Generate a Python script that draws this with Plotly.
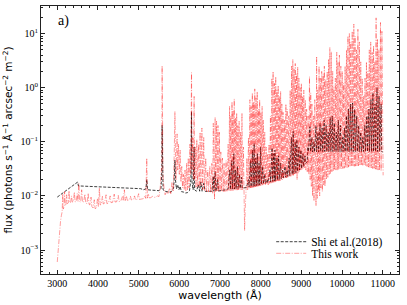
import plotly.graph_objects as go

# ---------------- data ----------------
# Shi et al. (2018): (wavelength [A], flux)
shi_blue = [(3000, 0.0095), (3500, 0.0180), (3520, 0.0153), (5050, 0.0136), (5120, 0.0130),
            (5180, 0.0135), (5200, 0.0200), (5220, 0.0130), (5300, 0.0128), (5400, 0.0127),
            (5500, 0.0125), (5550, 0.0135), (5570, 0.0300), (5577, 0.2000), (5584, 0.0300),
            (5600, 0.0130), (5650, 0.0122), (5700, 0.0118), (5750, 0.0117), (5800, 0.0119),
            (5860, 0.0140), (5880, 0.0250), (5892, 0.0460), (5905, 0.0200), (5930, 0.0135),
            (5960, 0.0160), (5990, 0.0130), (6020, 0.0150), (6050, 0.0120), (6100, 0.0118),
            (6150, 0.0113), (6200, 0.0115), (6250, 0.0125), (6285, 0.0200), (6300, 0.3600),
            (6312, 0.0180), (6340, 0.0130), (6364, 0.0800), (6376, 0.0130), (6420, 0.0122),
            (6470, 0.0160), (6500, 0.0122), (6530, 0.0180), (6560, 0.0122), (6600, 0.0170),
            (6640, 0.0121), (6700, 0.0121), (6760, 0.0122), (6800, 0.0122), (6835, 0.0230),
            (6850, 0.0122), (6880, 0.0280), (6900, 0.0122), (6940, 0.0200), (6960, 0.0123)]
shi_red = [(7000, 0.0125), (7050, 0.0126), (7100, 0.0127), (7150, 0.0130), (7200, 0.0135),
           (7240, 0.0300), (7255, 0.0132), (7290, 0.0450), (7305, 0.0133), (7340, 0.0600),
           (7355, 0.0134), (7380, 0.0300), (7395, 0.0135), (7430, 0.0350), (7445, 0.0137),
           (7480, 0.0250), (7495, 0.0138), (7530, 0.0220), (7545, 0.0139), (7600, 0.0140),
           (7650, 0.0143), (7700, 0.0200), (7715, 0.0145), (7750, 0.0450), (7765, 0.0147),
           (7800, 0.0700), (7815, 0.0150), (7840, 0.0930), (7855, 0.0152), (7880, 0.0500),
           (7895, 0.0155), (7920, 0.0600), (7935, 0.0157), (7960, 0.0400), (7975, 0.0160),
           (8000, 0.0800), (8015, 0.0163), (8050, 0.0350), (8065, 0.0166), (8100, 0.0250),
           (8115, 0.0170), (8160, 0.0200), (8175, 0.0175), (8230, 0.0300), (8245, 0.0180),
           (8280, 0.0770), (8295, 0.0185), (8320, 0.0600), (8335, 0.0188), (8350, 0.0700),
           (8365, 0.0192), (8400, 0.0500), (8415, 0.0197), (8440, 0.0550), (8455, 0.0202),
           (8490, 0.0400), (8505, 0.0208), (8540, 0.0300), (8555, 0.0215), (8600, 0.0350),
           (8615, 0.0222), (8650, 0.0300), (8665, 0.0230), (8700, 0.0500), (8715, 0.0240),
           (8760, 0.1200), (8775, 0.0250), (8800, 0.1550), (8815, 0.0260), (8850, 0.1000),
           (8865, 0.0270), (8890, 0.1100), (8905, 0.0285), (8940, 0.0800), (8955, 0.0300),
           (8990, 0.0700), (9005, 0.0320), (9040, 0.0600), (9055, 0.0350), (9090, 0.0550),
           (9105, 0.0400), (9145, 0.0430)]
shi_nir = [(9160, 0.0800), (9175, 0.0660), (9210, 0.1900), (9225, 0.0660), (9260, 0.1200),
           (9275, 0.0650), (9310, 0.1000), (9325, 0.0650), (9360, 0.2000), (9375, 0.0650),
           (9410, 0.1500), (9425, 0.0650), (9460, 0.2200), (9475, 0.0660), (9510, 0.1800),
           (9525, 0.0660), (9560, 0.2500), (9575, 0.0660), (9610, 0.2000), (9625, 0.0660),
           (9660, 0.1500), (9675, 0.0660), (9710, 0.2800), (9725, 0.0660), (9760, 0.3000),
           (9775, 0.0660), (9810, 0.2200), (9825, 0.0660), (9860, 0.1500), (9875, 0.0660),
           (9910, 0.2500), (9925, 0.0660), (9960, 0.2000), (9975, 0.0660), (10010, 0.1200),
           (10025, 0.0660), (10060, 0.1800), (10075, 0.0660), (10110, 0.3000), (10125, 0.0660),
           (10160, 0.4000), (10175, 0.0660), (10210, 0.5000), (10225, 0.0660), (10260, 0.5200),
           (10275, 0.0660), (10310, 0.4000), (10325, 0.0660), (10360, 0.3000), (10375, 0.0660),
           (10410, 0.2000), (10425, 0.0660), (10460, 0.1500), (10475, 0.0660), (10510, 0.1200),
           (10525, 0.0660), (10560, 0.2000), (10575, 0.0660), (10610, 0.3000), (10625, 0.0660),
           (10660, 0.4000), (10675, 0.0660), (10710, 0.6000), (10725, 0.0660), (10760, 0.8000),
           (10775, 0.0660), (10810, 0.5000), (10825, 0.0660), (10860, 1.0000), (10875, 0.0660),
           (10910, 0.7000), (10925, 0.0660), (10960, 0.5000), (10975, 0.0660), (11000, 0.0650)]

# This work: (wavelength [A], flux)
work_blue = [(3000, 0.0006), (3020, 0.0010), (3040, 0.0016), (3060, 0.0025), (3080, 0.0034),
             (3100, 0.0043), (3120, 0.0051), (3135, 0.0110), (3145, 0.0057), (3165, 0.0062),
             (3180, 0.0120), (3195, 0.0066), (3215, 0.0070), (3230, 0.0105), (3245, 0.0072),
             (3270, 0.0074), (3290, 0.0125), (3305, 0.0075), (3330, 0.0076), (3350, 0.0100),
             (3370, 0.0077), (3395, 0.0078), (3420, 0.0118), (3440, 0.0077), (3465, 0.0079),
             (3490, 0.0110), (3510, 0.0078), (3530, 0.0170), (3550, 0.0079), (3575, 0.0077),
             (3600, 0.0130), (3620, 0.0076), (3650, 0.0078), (3680, 0.0108), (3700, 0.0074),
             (3730, 0.0072), (3760, 0.0112), (3780, 0.0070), (3800, 0.0068), (3830, 0.0095),
             (3850, 0.0064), (3880, 0.0060), (3910, 0.0085), (3930, 0.0058), (3960, 0.0060),
             (3990, 0.0090), (4010, 0.0064), (4035, 0.0140), (4055, 0.0068), (4080, 0.0070),
             (4110, 0.0098), (4130, 0.0071), (4160, 0.0073), (4200, 0.0105), (4220, 0.0072),
             (4260, 0.0074), (4300, 0.0100), (4320, 0.0075), (4360, 0.0076), (4400, 0.0108),
             (4420, 0.0077), (4460, 0.0078), (4500, 0.0102), (4520, 0.0079), (4560, 0.0080),
             (4600, 0.0097), (4620, 0.0081), (4650, 0.0130), (4670, 0.0082), (4700, 0.0100),
             (4720, 0.0083), (4760, 0.0083), (4800, 0.0098), (4820, 0.0084), (4860, 0.0085),
             (4900, 0.0100), (4920, 0.0085), (4960, 0.0086), (5000, 0.0110), (5020, 0.0086),
             (5060, 0.0087), (5100, 0.0088)]
work_green = [(5120, 0.0089), (5150, 0.0100), (5175, 0.0090), (5200, 0.0500), (5215, 0.0091),
              (5240, 0.0110), (5260, 0.0092), (5300, 0.0093), (5340, 0.0098), (5380, 0.0094),
              (5420, 0.0095), (5460, 0.0100), (5500, 0.0097), (5530, 0.0140), (5555, 0.0270),
              (5570, 0.0400), (5577, 2.5500), (5585, 0.0350), (5600, 0.0220), (5620, 0.0150),
              (5650, 0.0105), (5690, 0.0120), (5720, 0.0108), (5760, 0.0140), (5790, 0.0110),
              (5820, 0.0180), (5850, 0.0120), (5875, 0.0600), (5892, 0.3600), (5905, 0.0700),
              (5920, 0.0200), (5945, 0.1400), (5960, 0.0300), (5980, 0.0900), (6000, 0.0250),
              (6020, 0.0700), (6040, 0.0180), (6060, 0.0350), (6080, 0.0140), (6100, 0.0250),
              (6120, 0.0130), (6140, 0.0300), (6160, 0.0125), (6180, 0.0400), (6200, 0.0130),
              (6220, 0.0500), (6240, 0.0140), (6260, 0.0900), (6280, 0.0250), (6300, 1.9000),
              (6310, 0.0300), (6330, 0.1200), (6345, 0.0200), (6364, 0.6900), (6375, 0.0200),
              (6395, 0.0800), (6410, 0.0140), (6430, 0.1100), (6450, 0.0150), (6470, 0.0900),
              (6490, 0.0140), (6510, 0.1500), (6530, 0.0150), (6555, 0.1800), (6575, 0.0130),
              (6600, 0.1200), (6620, 0.0125), (6650, 0.0500), (6670, 0.0120), (6700, 0.0300),
              (6720, 0.0118), (6750, 0.0350), (6770, 0.0115), (6800, 0.0400), (6820, 0.0110),
              (6835, 0.2200), (6850, 0.0100), (6865, 0.0085), (6880, 0.2800), (6895, 0.0120),
              (6915, 0.2400), (6930, 0.0120), (6950, 0.2000), (6965, 0.0120), (6985, 0.1500),
              (7000, 0.0120)]
work_red = [(7020, 0.0650), (7040, 0.0120), (7060, 0.0500), (7080, 0.0120), (7100, 0.0400),
            (7120, 0.0120), (7150, 0.0450), (7170, 0.0122), (7200, 0.0900), (7215, 0.0123),
            (7235, 0.4500), (7250, 0.0125), (7265, 0.3000), (7280, 0.0125), (7295, 0.5500),
            (7310, 0.0126), (7320, 0.3800), (7335, 0.0126), (7350, 0.6200), (7365, 0.0127),
            (7380, 0.2800), (7395, 0.0128), (7410, 0.3400), (7425, 0.0128), (7440, 0.2000),
            (7455, 0.0130), (7470, 0.2400), (7485, 0.0130), (7505, 0.1500), (7520, 0.0130),
            (7540, 0.3400), (7555, 0.0130), (7575, 0.0800), (7590, 0.0070), (7605, 0.0023),
            (7620, 0.0060), (7640, 0.0120), (7660, 0.0500), (7680, 0.0130), (7700, 0.1200),
            (7715, 0.0138), (7735, 0.6000), (7750, 0.0140), (7765, 0.4500), (7780, 0.0141),
            (7795, 0.8000), (7810, 0.0143), (7825, 0.5500), (7840, 0.0145), (7855, 0.9500),
            (7870, 0.0146), (7885, 0.6500), (7900, 0.0148), (7915, 0.8500), (7930, 0.0150),
            (7945, 0.4000), (7960, 0.0152), (7975, 0.6000), (7990, 0.0154), (8005, 0.3500),
            (8020, 0.0156), (8035, 0.4500), (8050, 0.0158), (8065, 0.2500), (8080, 0.0160),
            (8100, 0.1500), (8115, 0.0162), (8135, 0.0800), (8150, 0.0165), (8170, 0.0600),
            (8185, 0.0160), (8205, 0.0900), (8220, 0.0170), (8240, 0.3000), (8255, 0.0172),
            (8275, 1.5000), (8290, 0.0175), (8305, 2.0000), (8320, 0.0178), (8340, 1.2000),
            (8355, 0.0180), (8370, 1.6000), (8385, 0.0182), (8400, 0.9000), (8415, 0.0185),
            (8430, 1.1000), (8445, 0.0188), (8460, 0.7000), (8475, 0.0190), (8490, 0.8500),
            (8505, 0.0195), (8520, 0.5000), (8535, 0.0200), (8550, 0.3500), (8565, 0.0205),
            (8585, 0.2500), (8600, 0.0210), (8620, 0.5000), (8635, 0.0215), (8650, 0.4000),
            (8665, 0.0220), (8690, 0.3000), (8705, 0.0225), (8725, 0.9000), (8740, 0.0230),
            (8760, 2.5000), (8775, 0.0235), (8790, 3.3000), (8805, 0.0240), (8820, 2.2000),
            (8835, 0.0245), (8850, 2.8000), (8865, 0.0250), (8880, 1.8000), (8895, 0.0200),
            (8910, 2.4000), (8925, 0.0260), (8940, 1.5000), (8955, 0.0280), (8970, 1.0000),
            (8985, 0.0300), (9000, 1.2000), (9015, 0.0310), (9030, 0.7000), (9045, 0.0320),
            (9060, 0.9000), (9075, 0.0330), (9095, 0.6000), (9110, 0.0300), (9130, 0.4000),
            (9145, 0.0280), (9165, 0.3000), (9180, 0.0250)]
work_nir = [(9200, 1.6000), (9215, 0.0200), (9230, 0.8000), (9245, 0.0150), (9260, 0.5000),
            (9275, 0.0100), (9295, 0.3000), (9310, 0.0080), (9330, 0.6000), (9345, 0.0075),
            (9360, 0.0065), (9375, 3.8000), (9390, 0.0090), (9405, 0.9000), (9420, 0.0120),
            (9435, 2.5000), (9450, 0.0100), (9465, 1.5000), (9480, 0.0140), (9500, 2.0000),
            (9515, 0.0120), (9535, 1.8000), (9550, 0.0160), (9565, 2.5000), (9580, 0.0150),
            (9600, 1.4000), (9615, 0.0200), (9635, 2.0000), (9650, 0.0220), (9670, 3.4000),
            (9685, 0.0250), (9700, 5.5000), (9715, 0.0260), (9735, 4.6000), (9750, 0.0280),
            (9770, 2.0000), (9785, 0.0290), (9800, 1.0000), (9815, 0.0300), (9835, 1.5000),
            (9850, 0.0300), (9870, 4.5000), (9885, 0.0300), (9900, 3.0000), (9915, 0.0310),
            (9935, 4.0000), (9950, 0.0310), (9970, 2.5000), (9985, 0.0320), (10005, 2.0000),
            (10020, 0.0320), (10040, 1.2000), (10055, 0.0325), (10075, 2.5000), (10090, 0.0330),
            (10110, 5.0000), (10125, 0.0335), (10145, 9.0000), (10160, 0.0340), (10180, 10.000),
            (10195, 0.0345), (10215, 7.0000), (10230, 0.0350), (10250, 11.000), (10265, 0.0350),
            (10290, 15.000), (10300, 0.0352), (10320, 9.0000), (10335, 0.0355), (10355, 5.0000),
            (10370, 0.0358), (10390, 12.000), (10405, 0.0360), (10425, 7.0000), (10440, 0.0362),
            (10460, 3.0000), (10475, 0.0365), (10495, 1.5000), (10510, 0.0368), (10530, 0.7000),
            (10545, 0.0370), (10565, 1.5000), (10580, 0.0365), (10600, 3.0000), (10615, 0.0350),
            (10635, 2.0000), (10650, 0.0340), (10670, 5.0000), (10685, 0.0335), (10705, 7.0000),
            (10720, 0.0330), (10740, 4.5000), (10755, 0.0320), (10775, 6.0000), (10790, 0.0315),
            (10805, 3.0000), (10820, 0.0312), (10837, 19.500), (10850, 0.0310), (10870, 8.0000),
            (10885, 0.0300), (10905, 5.0000), (10920, 0.0295), (10945, 16.000), (10960, 0.0290),
            (10980, 11.000), (10995, 0.0270), (11010, 0.0240)]

shi_points = shi_blue + shi_red + shi_nir
work_points = work_blue + work_green + work_red + work_nir
shi_wl = [p[0] for p in shi_points]
shi_flux = [p[1] for p in shi_points]
work_wl = [p[0] for p in work_points]
work_flux = [p[1] for p in work_points]

x_ticks = [3000, 4000, 5000, 6000, 7000, 8000, 9000, 10000, 11000]
y_ticks = [1e-3, 1e-2, 1e-1, 1e0, 1e1]
y_ticktext = ["10<sup>\u22123</sup>", "10<sup>\u22122</sup>", "10<sup>\u22121</sup>",
              "10<sup>0</sup>", "10<sup>1</sup>"]

# ---------------- figure ----------------
fig = go.Figure()
fig.add_trace(go.Scatter(
    x=shi_wl, y=shi_flux, mode="lines", name="Shi et al.(2018)", legend="legend",
    line=dict(color="black", width=0.75, dash="3px,1.5px")))
fig.add_trace(go.Scatter(
    x=work_wl, y=work_flux, mode="lines", name="This work", legend="legend2",
    line=dict(color="rgba(255,0,0,0.45)", width=0.85, dash="5px,1.5px,1px,1.5px")))

minor_y = [m * 10.0 ** e for e in range(-4, 2) for m in range(2, 10)]

axis_common = dict(
    showline=True, linecolor="#222", linewidth=1, mirror="allticks",
    ticks="inside", ticklen=4, tickwidth=0.8, tickcolor="#222",
    showgrid=False, zeroline=False,
    tickfont=dict(family="Liberation Serif", size=10, color="black"),
)

fig.update_xaxes(
    **axis_common, range=[2600, 11400], tickmode="array", tickvals=x_ticks,
    ticktext=[str(v) for v in x_ticks],
    minor=dict(ticks="inside", ticklen=2, dtick=200, tick0=3000, tickcolor="#222", showgrid=False),
    title=dict(text="wavelength (\u00c5)", font=dict(family="DejaVu Sans", size=11, color="black"),
               standoff=2),
)
fig.update_yaxes(
    **axis_common, type="log", range=[-3.443, 1.509], tickmode="array",
    tickvals=y_ticks, ticktext=y_ticktext,
    minor=dict(ticks="inside", ticklen=2, tickmode="array", tickvals=minor_y,
               tickcolor="#222", showgrid=False),
    title=dict(text="flux (photons s<sup>\u22121</sup> \u00c5<sup>\u22121</sup> arcsec<sup>\u22122</sup> m<sup>\u22122</sup>)",
               font=dict(family="DejaVu Sans", size=10.5, color="black"), standoff=5),
)

fig.add_annotation(text="a)", xref="paper", yref="paper", x=0.042, y=0.944,
                   xanchor="left", yanchor="middle", showarrow=False,
                   font=dict(family="Liberation Serif", size=14, color="black"))

legend_style = dict(xanchor="left", yanchor="middle", bgcolor="rgba(0,0,0,0)", borderwidth=0,
                    font=dict(family="Liberation Serif", size=11.5, color="black"),
                    itemwidth=30)
fig.update_layout(
    width=407, height=305,
    margin=dict(l=41, r=8, t=6, b=31),
    paper_bgcolor="white", plot_bgcolor="white",
    showlegend=True,
    legend=dict(x=0.643, y=0.1205, **legend_style),
    legend2=dict(x=0.643, y=0.0772, **legend_style),
)

fig.write_html("out.html", config={"displayModeBar": False},
               post_script="document.body.style.margin='0';document.body.style.padding='0';")
